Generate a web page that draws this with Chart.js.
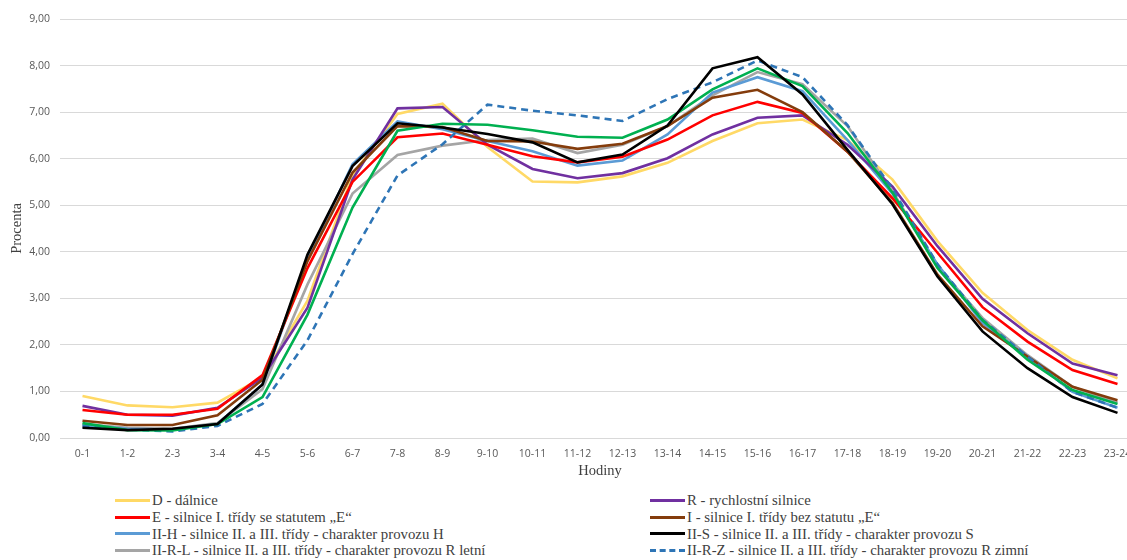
<!DOCTYPE html>
<html>
<head>
<meta charset="utf-8">
<script src="https://cdn.jsdelivr.net/npm/chart.js@4.4.1/dist/chart.umd.min.js"></script>
<style>
  body { margin: 0; background: #fff; overflow: hidden; width: 1127px; height: 560px; position: relative; }
  #chartBox { position: absolute; left: 0; top: 0; width: 1142px; height: 480px; }
  #legend {
    position: absolute; left: 115px; top: 492px; width: 1000px;
    display: grid; grid-template-columns: 535px 465px; row-gap: 0;
    font-family: "Liberation Serif", "Times New Roman", serif; font-size: 14.8px; color: #404040;
  }
  .item { display: flex; align-items: center; height: 16.8px; white-space: nowrap; }
  .swatch { width: 35px; height: 0; margin-right: 2px; }
</style>
</head>
<body>
<div id="chartBox"><canvas id="chart"></canvas></div>
<div id="legend"></div>
<script>
// hours of the day
const hours = ['0-1','1-2','2-3','3-4','4-5','5-6','6-7','7-8','8-9','9-10','10-11','11-12',
               '12-13','13-14','14-15','15-16','16-17','17-18','18-19','19-20','20-21','21-22','22-23','23-24'];

// share of daily traffic per hour (%)
const dValues   = [0.90,0.70,0.66,0.76,1.30,2.95,5.65,6.96,7.18,6.25,5.51,5.49,5.62,5.91,6.38,6.76,6.84,6.40,5.55,4.23,3.12,2.32,1.68,1.28];
const rValues   = [0.69,0.50,0.48,0.65,1.30,2.80,5.55,7.08,7.11,6.30,5.78,5.58,5.69,6.01,6.52,6.88,6.93,6.30,5.40,4.12,2.99,2.25,1.60,1.35];
const eValues   = [0.60,0.50,0.50,0.63,1.35,3.65,5.50,6.46,6.54,6.30,6.05,5.92,6.04,6.41,6.93,7.22,6.98,6.15,5.15,3.98,2.81,2.07,1.46,1.16];
const iValues   = [0.37,0.28,0.28,0.49,1.25,3.80,5.70,6.70,6.68,6.38,6.37,6.21,6.32,6.70,7.31,7.48,7.00,6.15,5.05,3.51,2.40,1.75,1.10,0.81];
const iihValues = [0.28,0.20,0.18,0.30,1.15,3.85,5.88,6.80,6.63,6.38,6.16,5.85,5.96,6.52,7.42,7.75,7.45,6.40,5.25,3.73,2.47,1.75,0.99,0.65];
const iisValues = [0.22,0.17,0.20,0.30,1.15,3.94,5.84,6.76,6.67,6.53,6.35,5.92,6.09,6.71,7.94,8.18,7.38,6.19,5.02,3.47,2.29,1.50,0.88,0.54];
const iirlValues= [0.30,0.22,0.20,0.32,1.05,3.30,5.25,6.08,6.28,6.40,6.43,6.12,6.30,6.70,7.36,7.86,7.60,6.70,5.30,3.69,2.58,1.78,1.10,0.76];
const iirzValues= [0.25,0.18,0.14,0.26,0.73,2.10,3.95,5.64,6.31,7.16,7.03,6.93,6.81,7.28,7.64,8.11,7.75,6.72,5.35,3.73,2.54,1.75,0.99,0.65];
const greenValues=[0.32,0.17,0.16,0.30,0.88,2.65,4.95,6.60,6.75,6.73,6.61,6.47,6.45,6.84,7.49,7.94,7.56,6.55,5.27,3.65,2.53,1.68,1.03,0.73];

const yTicks = [0,1,2,3,4,5,6,7,8,9];

function series(label, data, color, dashed, order) {
    return {
        label: label,
        data: data,
        borderColor: color,
        backgroundColor: color,
        borderWidth: 2.6,
        borderDash: dashed ? [7, 5] : [],
        pointRadius: 0,
        tension: 0,
        fill: false,
        order: order
    };
}

const datasets = [
    series('D - dálnice', dValues, '#FFD966', false, 8),
    series('R - rychlostní silnice', rValues, '#7030A0', false, 5),
    series('E - silnice I. třídy se statutem „E“', eValues, '#FF0000', false, 4),
    series('I - silnice I. třídy bez statutu „E“', iValues, '#843C0C', false, 3),
    series('II-H - silnice II. a III. třídy - charakter provozu H', iihValues, '#5B9BD5', false, 6),
    series('II-S - silnice II. a III. třídy - charakter provozu S', iisValues, '#000000', false, 0),
    series('II-R-L - silnice II. a III. třídy - charakter provozu R letní', iirlValues, '#A5A5A5', false, 7),
    series('II-R-Z - silnice II. a III. třídy - charakter provozu R zimní', iirzValues, '#2E75B6', true, 2),
    series('', greenValues, '#00B050', false, 1)
];

const chart = new Chart(document.getElementById('chart'), {
    type: 'line',
    data: { labels: hours, datasets: datasets },
    options: {
        responsive: true,
        maintainAspectRatio: false,
        animation: false,
        layout: { padding: { top: 19, right: 2, left: 0, bottom: 0 } },
        plugins: { legend: { display: false }, tooltip: { enabled: false } },
        scales: {
            x: {
                offset: true,
                grid: { display: false, drawTicks: false },
                border: { display: false },
                ticks: {
                    autoSkip: false, maxRotation: 0, padding: 10,
                    color: '#595959', font: { family: 'Open Sans', size: 10.5 }
                },
                title: {
                    display: true, text: 'Hodiny', color: '#404040',
                    font: { family: 'Liberation Serif', size: 14.5 }, padding: { top: -8, bottom: 0 }
                }
            },
            y: {
                min: 0, max: 9,
                afterBuildTicks: (s) => { s.ticks = yTicks.map(v => ({ value: v })); },
                afterFit: (s) => { s.width = 60; },
                grid: { color: '#D9D9D9', lineWidth: 1, drawTicks: false },
                border: { display: false },
                ticks: {
                    padding: 10, color: '#595959', font: { family: 'Open Sans', size: 10.5 },
                    callback: (v) => v.toFixed(2).replace('.', ',')
                },
                title: {
                    display: true, text: 'Procenta', color: '#404040',
                    font: { family: 'Liberation Serif', size: 14.5 }, padding: { top: 8, bottom: 0 }
                }
            }
        }
    }
});

// HTML legend, two columns, green series has no entry in the original
const legendEl = document.getElementById('legend');
chart.data.datasets.forEach(ds => {
    if (!ds.label) return;
    const item = document.createElement('div');
    item.className = 'item';
    const sw = document.createElement('span');
    sw.className = 'swatch';
    sw.style.borderTop = '3px ' + (ds.borderDash.length ? 'dashed ' : 'solid ') + ds.borderColor;
    item.appendChild(sw);
    item.appendChild(document.createTextNode(ds.label));
    legendEl.appendChild(item);
});
</script>
</body>
</html>
